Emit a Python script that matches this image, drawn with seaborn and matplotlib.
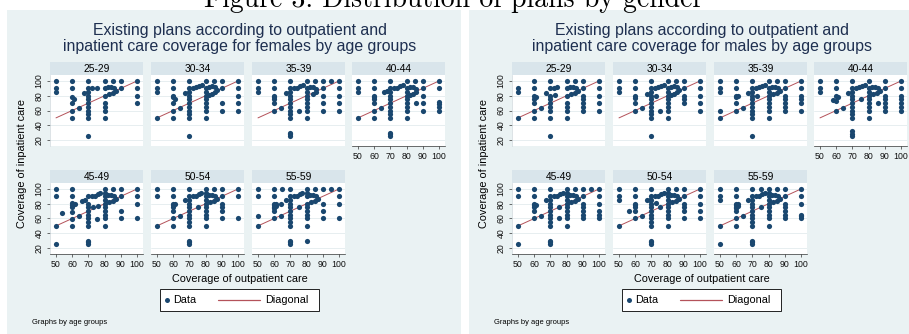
import matplotlib
matplotlib.use("Agg")
import matplotlib.pyplot as plt
from matplotlib.patches import Rectangle
from matplotlib.lines import Line2D
import pandas as pd
import seaborn as sns

# ---------------- data ----------------
AGE_GROUPS = ["25-29", "30-34", "35-39", "40-44", "45-49", "50-54", "55-59"]
X_TICKS = [50, 60, 70, 80, 90, 100]
Y_TICKS = [20, 40, 60, 80, 100]
DIAG_X = [50, 100]
DIAG_Y = [50, 100]

F_25_29 = [(50,100),(50,90),(50,85),(60,100),(60,90),(60,78),(60,70),(60,60),(60,50),(61,76),(64,64),(67,84),
           (70,100),(70,90),(70,85),(70,80),(70,75),(70,70),(70,65),(70,60),(70,55),(70,50),(70,25),(72,90),(75,90),
           (80,100),(80,90),(80,80),(80,70),(80,65),(80,60),(80,50),(82,92),(84,92),(86,90),(87,87),(85,84),(83,82),
           (85,100),(90,100),(90,90),(100,100),(100,90),(100,80),(100,70)]
F_30_34 = [(50,100),(50,90),(50,85),(50,50),(60,100),(60,90),(60,80),(60,78),(60,70),(60,60),(60,50),(61,76),(64,64),(67,84),
           (70,100),(70,90),(70,85),(70,80),(70,75),(70,70),(70,65),(70,60),(70,55),(70,50),(70,25),(72,91),(74,92),(76,93),(78,95),
           (80,100),(80,90),(80,85),(80,80),(80,75),(80,70),(80,65),(80,60),(80,50),(82,92),(84,93),(86,92),(87,88),(86,85),(84,83),(82,81),
           (85,100),(90,100),(90,90),(90,70),(90,60),(100,100),(100,90),(100,80),(100,70),(100,60)]
F_35_39 = [(50,100),(50,90),(50,85),(60,100),(60,90),(60,80),(60,78),(60,76),(60,70),(60,60),(64,64),(67,84),
           (70,100),(70,90),(70,85),(70,80),(70,75),(70,70),(70,65),(70,60),(70,55),(70,50),(70,30),(70,28),(70,25),
           (72,90),(74,91),(76,93),(78,95),(75,60),(80,100),(80,90),(80,85),(80,80),(80,75),(80,70),(80,65),(80,60),(80,50),
           (82,92),(84,92),(86,89),(86,85),(84,82),(85,100),(90,100),(90,90),(90,80),(90,70),(90,60),(95,100),
           (100,100),(100,90),(100,80),(100,70),(100,60)]
F_40_44 = [(50,100),(50,90),(50,85),(50,50),(60,100),(60,90),(60,80),(60,78),(60,76),(60,70),(60,60),(60,50),(64,64),(66,85),(68,86),
           (70,100),(70,90),(70,85),(70,80),(70,75),(70,70),(70,65),(70,60),(70,55),(70,50),(70,30),(70,28),(70,25),
           (72,90),(74,91),(76,93),(78,94),(80,100),(80,90),(80,85),(80,80),(80,75),(80,70),(80,65),(80,60),(80,50),
           (82,92),(84,92),(86,89),(86,85),(84,82),(82,81),(86,70),(85,100),(90,100),(90,90),(90,80),(90,70),(90,60),
           (100,100),(100,90),(100,72),(100,69),(100,65),(100,60)]
F_45_49 = [(50,100),(50,90),(50,50),(50,25),(54,68),(60,100),(60,90),(60,81),(60,78),(60,76),(60,69),(60,59),(60,50),(62,79),(64,64),
           (66,84),(68,85),(70,90),(70,80),(70,75),(70,70),(70,65),(70,60),(70,55),(70,50),(70,30),(70,28),(70,25),
           (72,90),(74,91),(76,93),(77,95),(75,59),(73,76),(76,77),(80,100),(80,95),(80,90),(80,85),(80,80),(80,75),(80,70),
           (80,65),(80,60),(80,50),(82,92),(84,92),(86,90),(87,86),(85,84),(83,82),(85,100),(90,100),(90,90),(90,70),(90,60),
           (100,100),(100,90),(100,80),(100,60)]
F_50_54 = [(50,100),(50,90),(50,50),(60,100),(60,90),(60,80),(60,78),(60,76),(60,70),(60,60),(60,50),(61,79),(64,64),(67,85),
           (70,100),(70,90),(70,85),(70,80),(70,75),(70,70),(70,65),(70,60),(70,55),(70,50),(70,30),(70,28),(70,25),
           (72,90),(74,91),(76,93),(77,95),(75,76),(80,100),(80,95),(80,90),(80,85),(80,80),(80,75),(80,70),(80,65),(80,60),(80,50),
           (82,92),(84,92),(86,90),(87,86),(85,84),(83,82),(85,100),(90,100),(90,90),(90,80),(90,75),(90,70),(90,60),
           (100,100),(100,90),(100,60)]
F_55_59 = [(50,100),(50,90),(50,63),(50,50),(60,100),(60,90),(60,80),(60,78),(60,76),(60,74),(60,70),(60,60),(61,80),(61,77),
           (64,80),(64,64),(65,100),(67,85),(70,100),(70,90),(70,85),(70,80),(70,75),(70,70),(70,65),(70,60),(70,55),(70,50),
           (70,30),(70,28),(70,25),(72,90),(74,91),(76,93),(77,95),(75,76),(80,100),(80,94),(80,90),(80,80),(80,75),(80,70),
           (80,65),(80,60),(80,50),(80,30),(82,92),(84,92),(86,90),(87,87),(85,84),(83,82),(85,100),(90,100),(90,80),(90,70),
           (90,60),(95,100),(100,100),(100,90),(100,80),(100,60)]

M_25_29 = [(50,90),(50,85),(50,50),(60,100),(60,90),(60,80),(60,76),(60,70),(60,60),(60,50),(61,78),(64,64),(67,84),
           (70,100),(70,90),(70,80),(70,75),(70,70),(70,65),(70,60),(70,50),(70,25),(72,91),(74,92),(73,81),
           (80,100),(80,90),(80,80),(80,70),(80,65),(80,60),(80,50),(82,92),(84,92),(86,90),(87,86),(85,84),(83,82),
           (85,100),(90,100),(90,90),(90,80),(90,75),(90,70),(90,65),(90,60),(100,100),(100,90),(100,80),(100,70),(100,60)]
M_30_34 = [(50,100),(50,90),(50,85),(60,100),(60,90),(60,80),(60,77),(60,70),(60,60),(64,64),(67,83),
           (70,100),(70,90),(70,85),(70,80),(70,75),(70,70),(70,65),(70,60),(70,55),(70,50),(70,25),(72,90),(74,92),(76,93),(78,94),
           (75,60),(73,80),(80,100),(80,90),(80,85),(80,80),(80,75),(80,70),(80,65),(80,60),(80,50),(82,92),(84,93),(86,92),(87,88),
           (86,85),(84,83),(82,81),(85,100),(90,100),(90,90),(90,80),(90,76),(90,70),(100,100),(100,90),(100,80),(100,70),(100,60)]
M_35_39 = [(50,100),(50,90),(50,85),(50,60),(50,50),(60,100),(60,90),(60,80),(60,78),(60,70),(60,60),(61,79),(64,64),(67,84),
           (70,100),(70,90),(70,85),(70,80),(70,75),(70,70),(70,65),(70,60),(70,55),(70,50),(70,25),(72,91),(74,92),(76,93),(78,95),
           (73,80),(80,100),(80,90),(80,85),(80,80),(80,75),(80,70),(80,65),(80,60),(80,50),(82,92),(84,92),(86,90),(87,86),(85,84),
           (83,82),(85,100),(90,100),(90,90),(90,80),(90,75),(90,70),(90,65),(90,60),(100,100),(100,90),(100,80),(100,75),(100,70),(100,60)]
M_40_44 = [(50,100),(50,90),(50,85),(60,100),(60,90),(60,80),(58,74),(60,73),(61,78),(60,60),(64,64),(67,84),
           (70,100),(70,90),(70,85),(70,80),(70,75),(70,70),(70,65),(70,60),(70,55),(70,50),(70,32),(70,28),(70,25),
           (72,90),(74,92),(76,93),(78,95),(75,75),(80,100),(80,90),(80,85),(80,80),(80,75),(80,70),(80,65),(80,60),(80,50),
           (82,92),(84,92),(86,90),(87,86),(85,84),(83,82),(86,70),(90,100),(90,90),(90,80),(90,75),(90,70),(90,65),(90,60),
           (100,100),(100,90),(100,80),(100,75),(100,70),(100,65),(100,60)]
M_45_49 = [(50,100),(50,90),(50,50),(50,25),(60,100),(60,90),(60,80),(60,78),(60,76),(60,70),(60,60),(61,78),(64,64),(67,85),
           (70,100),(70,90),(70,85),(70,80),(70,75),(70,70),(70,65),(70,60),(70,55),(70,50),(70,30),(70,28),(70,25),
           (72,90),(74,91),(76,93),(78,95),(75,76),(75,60),(80,100),(80,95),(80,90),(80,85),(80,80),(80,75),(80,70),(80,65),
           (80,60),(80,50),(82,92),(84,92),(86,90),(87,86),(85,84),(83,82),(85,100),(90,100),(90,90),(90,80),(90,75),(90,70),
           (90,65),(90,60),(95,100),(100,100),(100,90),(100,80),(100,70),(100,65),(100,60)]
M_50_54 = [(50,100),(50,90),(50,85),(50,50),(56,70),(60,100),(60,90),(60,80),(60,78),(60,76),(60,70),(60,60),(64,64),(67,85),(69,85),
           (70,100),(70,90),(70,85),(70,80),(70,75),(70,70),(70,65),(70,60),(70,55),(70,50),(70,30),(70,28),(70,25),(73,81),
           (72,90),(74,91),(76,93),(78,95),(75,76),(80,100),(80,95),(80,90),(80,85),(80,80),(80,75),(80,70),(80,65),(80,60),(80,50),
           (82,92),(84,92),(86,90),(87,86),(85,84),(83,82),(85,100),(90,100),(90,90),(90,80),(90,75),(90,70),(90,60),
           (100,100),(100,90),(100,80),(100,70),(100,60)]
M_55_59 = [(50,100),(50,90),(50,85),(50,50),(50,25),(60,100),(60,90),(60,80),(60,78),(60,76),(60,74),(60,70),(60,60),(60,50),
           (61,79),(61,77),(64,64),(67,85),(70,100),(70,90),(70,85),(70,80),(70,75),(70,70),(70,65),(70,60),(70,55),(70,50),
           (70,30),(70,28),(70,25),(72,90),(74,91),(76,93),(78,95),(75,100),(75,76),(80,100),(80,95),(80,90),(80,85),(80,80),
           (80,75),(80,70),(80,65),(80,60),(80,50),(82,92),(84,92),(86,90),(87,86),(85,84),(83,82),(85,100),(90,100),(90,90),
           (90,80),(90,75),(90,70),(90,65),(90,60),(100,100),(100,90),(100,80),(100,65),(100,63),(100,60)]

FEMALE = [F_25_29, F_30_34, F_35_39, F_40_44, F_45_49, F_50_54, F_55_59]
MALE = [M_25_29, M_30_34, M_35_39, M_40_44, M_45_49, M_50_54, M_55_59]

TITLE_F = ["Existing plans according to outpatient and",
           "inpatient care coverage for females by age groups"]
TITLE_M = ["Existing plans according to outpatient and",
           "inpatient care coverage for males by age groups"]
CAPTION = "Figure 3: Distribution of plans by gender"
XLABEL = "Coverage of outpatient care"
YLABEL = "Coverage of inpatient care"
NOTE = "Graphs by age groups"
LEGEND_LABELS = ["Data", "Diagonal"]

# ---------------- style ----------------
sns.set_style("white")
plt.rcParams["font.family"] = ["Liberation Sans", "DejaVu Sans"]

BG = "#eaf2f3"
STRIP = "#d9e5eb"
NAVY = "#1a476f"
MAROON = "#b4525a"
GRID = "#e3ebee"
TXT = "#1e2f50"

W, H = 909, 334
fig = plt.figure(figsize=(W / 100, H / 100), dpi=100)
fig.patch.set_facecolor("white")


def fr(x, y, w, h):
    return [x / W, 1 - (y + h) / H, w / W, h / H]


def px(x, y):
    return x / W, 1 - y / H


COL_X = [50, 151, 252, 352]
ROW_Y = [75, 183]
PW, PH, SH = 93, 71, 13

fig.text(*px(454, 7), CAPTION, ha="center", va="baseline", fontsize=20, family="cmr10", color="black")

for groups, title, ox in [(FEMALE, TITLE_F, 0), (MALE, TITLE_M, 462)]:
    bx, by, bw, bh = fr(7 + ox, 10, 454, 330)
    fig.add_artist(Rectangle((bx, by), bw, bh, transform=fig.transFigure, facecolor=BG, edgecolor="none", zorder=0))
    fig.text(*px(240 + ox, 31), title[0], ha="center", va="center", fontsize=11.4, color=TXT)
    fig.text(*px(240 + ox, 47), title[1], ha="center", va="center", fontsize=11.4, color=TXT)

    for i, (grp, pts) in enumerate(zip(AGE_GROUPS, groups)):
        row, col = divmod(i, 4)
        x0, y0 = COL_X[col] + ox, ROW_Y[row]
        sx, sy, sw, sh = fr(x0, y0 - SH, PW, SH)
        fig.add_artist(Rectangle((sx, sy), sw, sh, transform=fig.transFigure, facecolor=STRIP, edgecolor="none", zorder=1))
        fig.text(*px(x0 + PW / 2, y0 - SH / 2), grp, ha="center", va="center", fontsize=7.4, color="black")

        ax = fig.add_axes(fr(x0, y0, PW, PH))
        ax.set_facecolor("white")
        df = pd.DataFrame(pts, columns=["outpatient", "inpatient"])
        sns.lineplot(x=DIAG_X, y=DIAG_Y, ax=ax, color=MAROON, linewidth=0.7, zorder=2)
        sns.scatterplot(data=df, x="outpatient", y="inpatient", ax=ax, color=NAVY, s=14,
                        linewidth=0, zorder=3, legend=False)
        ax.set_xlim(46.3, 103.7)
        ax.set_ylim(11.9, 108.1)
        ax.set_xticks(X_TICKS)
        ax.set_yticks(Y_TICKS)
        ax.set_xlabel("")
        ax.set_ylabel("")
        ax.grid(axis="y", color=GRID, linewidth=0.6)
        ax.grid(axis="x", visible=False)
        ax.set_axisbelow(True)
        for s in ax.spines.values():
            s.set_visible(False)
        show_x = row == 1 or (row == 0 and col == 3)
        show_y = col == 0
        ax.tick_params(axis="x", bottom=show_x, labelbottom=show_x, length=2.5, width=0.5,
                       color="#333333", labelsize=6.3, pad=2, labelcolor="#111111")
        ax.tick_params(axis="y", left=show_y, labelleft=show_y, length=2.5, width=0.5,
                       color="#333333", labelsize=6.3, pad=2, labelcolor="#111111")
        if show_x:
            ax.spines["bottom"].set_visible(True)
            ax.spines["bottom"].set_color("#333333")
            ax.spines["bottom"].set_linewidth(0.5)
        if show_y:
            ax.spines["left"].set_visible(True)
            ax.spines["left"].set_color("#cfd8dc")
            ax.spines["left"].set_linewidth(0.5)
            for lab in ax.get_yticklabels():
                lab.set_rotation(90)
                lab.set_va("center")

    fig.text(*px(240 + ox, 279), XLABEL, ha="center", va="center", fontsize=7.8, color="black")
    fig.text(*px(22 + ox, 163), YLABEL, ha="center", va="center", rotation=90, fontsize=7.8, color="black")
    fig.text(*px(32 + ox, 322), NOTE, ha="left", va="center", fontsize=5.4, color="black")

    # legend box (Stata style: short marker key, long line key)
    lx, ly, lw, lh = fr(160 + ox, 289, 159, 22)
    fig.add_artist(Rectangle((lx, ly), lw, lh, transform=fig.transFigure, facecolor="white",
                             edgecolor="black", linewidth=0.6, zorder=5))
    fig.add_artist(Line2D([px(167 + ox, 0)[0]], [px(0, 300)[1]], transform=fig.transFigure, marker="o",
                          linestyle="none", color=NAVY, markersize=3.6, markeredgewidth=0, zorder=6))
    fig.text(*px(173 + ox, 300), LEGEND_LABELS[0], ha="left", va="center", fontsize=7.8, color="black", zorder=6)
    fig.add_artist(Line2D([px(218 + ox, 0)[0], px(260 + ox, 0)[0]], [px(0, 300)[1]] * 2,
                          transform=fig.transFigure, color=MAROON, linewidth=0.9, zorder=6))
    fig.text(*px(265 + ox, 300), LEGEND_LABELS[1], ha="left", va="center", fontsize=7.8, color="black", zorder=6)

fig.savefig("out.png", dpi=100, facecolor="white")
